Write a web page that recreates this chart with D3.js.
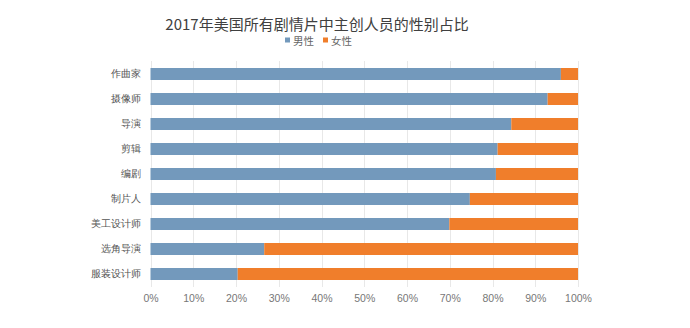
<!DOCTYPE html>
<html>
<head>
<meta charset="utf-8">
<script src="https://cdn.jsdelivr.net/npm/d3@7"></script>
<style>
  html, body { margin: 0; padding: 0; background: #fff; }
  svg { display: block; font-family: "Noto Sans CJK SC", "Noto Sans", sans-serif; }
</style>
</head>
<body>
<svg id="chart" width="690" height="328"></svg>
<script>
// Share of male / female key creatives on 2017 US drama films
const roles = ["作曲家", "摄像师", "导演", "剪辑", "编剧", "制片人", "美工设计师", "选角导演", "服装设计师"];
const male = [0.96, 0.929, 0.844, 0.812, 0.808, 0.747, 0.699, 0.266, 0.204];
const female = male.map(m => 1 - m);
const seriesNames = ["男性", "女性"];
const xTicks = [0, 0.1, 0.2, 0.3, 0.4, 0.5, 0.6, 0.7, 0.8, 0.9, 1.0];

const colors = { "男性": "#7399bc", "女性": "#f07e2b" };

const svg = d3.select("#chart");

const x = d3.scaleLinear().domain([0, 1]).range([150.5, 578]);
const y = d3.scaleBand().domain(roles).range([61.5, 286.5]).paddingInner(0.52).paddingOuter(0.26);

// vertical gridlines
svg.append("g")
  .selectAll("line")
  .data(xTicks)
  .join("line")
  .attr("x1", d => Math.round(x(d)) + 0.5)
  .attr("x2", d => Math.round(x(d)) + 0.5)
  .attr("y1", 61)
  .attr("y2", 287)
  .attr("stroke", "#e8e8e8")
  .attr("stroke-width", 1);

// stacked bars
const rows = roles.map((r, i) => ({ role: r, "男性": male[i], "女性": female[i] }));
const stacked = d3.stack().keys(seriesNames)(rows);

svg.append("g")
  .selectAll("g")
  .data(stacked)
  .join("g")
  .attr("fill", d => colors[d.key])
  .selectAll("rect")
  .data(d => d)
  .join("rect")
  .attr("x", d => x(d[0]))
  .attr("width", d => x(d[1]) - x(d[0]))
  .attr("y", d => y(d.data.role))
  .attr("height", y.bandwidth());

// category axis
const yAxis = svg.append("g")
  .attr("transform", `translate(${x(0)},0)`)
  .call(d3.axisLeft(y).tickSize(0).tickPadding(10));
yAxis.select(".domain").remove();
yAxis.selectAll("text")
  .attr("fill", "#555")
  .style("font-size", "10px");

// value axis
const xAxis = svg.append("g")
  .attr("transform", "translate(0,292)")
  .call(d3.axisBottom(x).tickValues(xTicks).tickFormat(d3.format(".0%")).tickSize(0).tickPadding(3));
xAxis.select(".domain").remove();
xAxis.selectAll("text")
  .attr("fill", "#777")
  .style("font-size", "10.5px");

// title
svg.append("text")
  .attr("x", 317)
  .attr("y", 30)
  .attr("text-anchor", "middle")
  .attr("fill", "#404040")
  .style("font-size", "15px")
  .text("2017年美国所有剧情片中主创人员的性别占比");

// legend
const legendX = [285, 323];
const legend = svg.append("g")
  .selectAll("g")
  .data(seriesNames)
  .join("g")
  .attr("transform", (d, i) => `translate(${legendX[i]},41)`);
legend.append("rect")
  .attr("x", 0).attr("y", -3.5)
  .attr("width", 5).attr("height", 5)
  .attr("fill", d => colors[d]);
legend.append("text")
  .attr("x", 8).attr("y", 0)
  .attr("dy", "0.35em")
  .attr("fill", "#666")
  .style("font-size", "10.5px")
  .text(d => d);
</script>
</body>
</html>
